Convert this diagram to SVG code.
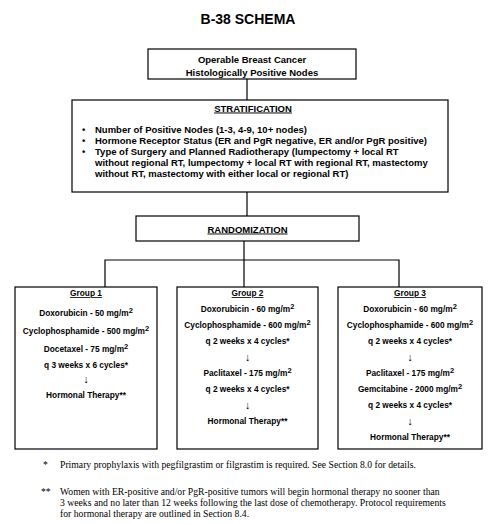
<svg xmlns="http://www.w3.org/2000/svg" width="497" height="524" viewBox="0 0 497 524">
<style>
  .box{fill:#fff;stroke:#000;stroke-width:1.2}
  .conn{fill:none;stroke:#000;stroke-width:1.2}
  .t{font-family:"Liberation Sans",Arial,sans-serif;font-weight:bold;fill:#000}
  .m{font-size:9.5px;text-anchor:middle}
  .s{font-size:9.5px}
  .g{font-size:8.3px;text-anchor:middle}
  .a{font-size:10.5px;font-weight:normal}
  .u{text-decoration:underline}
  .fn{font-family:"Liberation Serif","Times New Roman",serif;font-size:9.7px;fill:#000}
</style>
<rect width="497" height="524" fill="#fff"/>
<text class="t" x="248" y="24" font-size="14" text-anchor="middle">B-38 SCHEMA</text>

<g id="connectors">
  <line class="conn" x1="247" y1="79" x2="247" y2="100"/>
  <line class="conn" x1="247" y1="192" x2="247" y2="216"/>
  <line class="conn" x1="244" y1="241" x2="244" y2="287"/>
  <polyline class="conn" points="105,287 105,260 399,260 399,287"/>
</g>

<g id="eligibility">
  <rect class="box" x="148" y="49" width="208" height="30"/>
  <text class="t m" x="252" y="62.5">Operable Breast Cancer</text>
  <text class="t m" x="252" y="76">Histologically Positive Nodes</text>
</g>

<g id="stratification">
  <rect class="box" x="72" y="100" width="376" height="92"/>
  <text class="t m u" x="253" y="111.5">STRATIFICATION</text>
  <g class="t s">
    <text x="82" y="132.5">•</text>
    <text x="95" y="132.5">Number of Positive Nodes (1-3, 4-9, 10+ nodes)</text>
    <text x="82" y="143.5">•</text>
    <text x="95" y="143.5">Hormone Receptor Status (ER and PgR negative, ER and/or PgR positive)</text>
    <text x="82" y="154.5">•</text>
    <text x="95" y="154.5">Type of Surgery and Planned Radiotherapy (lumpectomy + local RT</text>
    <text x="95" y="165.5">without regional RT, lumpectomy + local RT with regional RT, mastectomy</text>
    <text x="95" y="176.5">without RT, mastectomy with either local or regional RT)</text>
  </g>
</g>

<g id="randomization">
  <rect class="box" x="136" y="216" width="223" height="25"/>
  <text class="t m u" x="247.5" y="232.5">RANDOMIZATION</text>
</g>

<g id="group1">
  <rect class="box" x="15" y="287" width="142" height="162"/>
  <g class="t g">
    <text class="u" x="86" y="296">Group 1</text>
    <text x="86" y="316">Doxorubicin - 50 mg/m<tspan font-size="7.5" dy="-3">2</tspan></text>
    <text x="86" y="334">Cyclophosphamide - 500 mg/m<tspan font-size="7.5" dy="-3">2</tspan></text>
    <text x="86" y="352">Docetaxel - 75 mg/m<tspan font-size="7.5" dy="-3">2</tspan></text>
    <text x="86" y="368">q 3 weeks x 6 cycles*</text>
    <text class="a" x="86" y="383">↓</text>
    <text x="86" y="398">Hormonal Therapy**</text>
  </g>
</g>

<g id="group2">
  <rect class="box" x="177" y="287" width="141" height="162"/>
  <g class="t g">
    <text class="u" x="247.5" y="296">Group 2</text>
    <text x="247.5" y="312">Doxorubicin - 60 mg/m<tspan font-size="7.5" dy="-3">2</tspan></text>
    <text x="247.5" y="328">Cyclophosphamide - 600 mg/m<tspan font-size="7.5" dy="-3">2</tspan></text>
    <text x="247.5" y="344">q 2 weeks x 4 cycles*</text>
    <text class="a" x="247.5" y="361">↓</text>
    <text x="247.5" y="376">Paclitaxel - 175 mg/m<tspan font-size="7.5" dy="-3">2</tspan></text>
    <text x="247.5" y="392">q 2 weeks x 4 cycles*</text>
    <text class="a" x="247.5" y="409">↓</text>
    <text x="247.5" y="424">Hormonal Therapy**</text>
  </g>
</g>

<g id="group3">
  <rect class="box" x="338" y="287" width="144" height="162"/>
  <g class="t g">
    <text class="u" x="410" y="296">Group 3</text>
    <text x="410" y="312">Doxorubicin - 60 mg/m<tspan font-size="7.5" dy="-3">2</tspan></text>
    <text x="410" y="328">Cyclophosphamide - 600 mg/m<tspan font-size="7.5" dy="-3">2</tspan></text>
    <text x="410" y="344">q 2 weeks x 4 cycles*</text>
    <text class="a" x="410" y="361">↓</text>
    <text x="410" y="376">Paclitaxel - 175 mg/m<tspan font-size="7.5" dy="-3">2</tspan></text>
    <text x="410" y="392">Gemcitabine - 2000 mg/m<tspan font-size="7.5" dy="-3">2</tspan></text>
    <text x="410" y="408">q 2 weeks x 4 cycles*</text>
    <text class="a" x="410" y="425">↓</text>
    <text x="410" y="440">Hormonal Therapy**</text>
  </g>
</g>

<g id="footnotes" class="fn">
  <text x="43" y="468">*</text>
  <text x="60" y="468">Primary prophylaxis with pegfilgrastim or filgrastim is required. See Section 8.0 for details.</text>
  <text x="41" y="495">**</text>
  <text x="60" y="495">Women with ER-positive and/or PgR-positive tumors will begin hormonal therapy no sooner than</text>
  <text x="60" y="506">3 weeks and no later than 12 weeks following the last dose of chemotherapy.  Protocol requirements</text>
  <text x="60" y="517">for hormonal therapy are outlined in Section 8.4.</text>
</g>
</svg>
